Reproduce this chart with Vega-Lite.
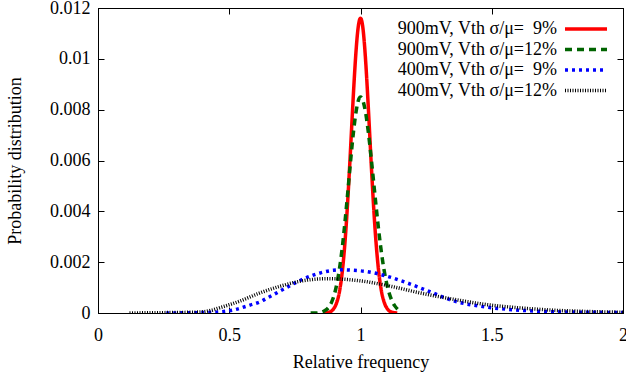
{
  "$schema": "https://vega.github.io/schema/vega-lite/v6.json",
  "autosize": "none",
  "width": 525,
  "height": 305,
  "padding": {"left": 98, "top": 8, "right": 3, "bottom": 68},
  "background": "white",
  "config": {
    "view": {"stroke": "black", "strokeWidth": 1},
    "font": "Liberation Serif",
    "axis": {
      "domainColor": "black",
      "tickColor": "black",
      "labelColor": "black",
      "titleColor": "black",
      "labelFont": "Liberation Serif",
      "titleFont": "Liberation Serif",
      "labelFontSize": 18,
      "titleFontSize": 18,
      "titleFontWeight": "normal",
      "grid": false,
      "tickSize": -6
    },
    "legend": {
      "labelFont": "Liberation Serif",
      "labelFontSize": 18,
      "labelColor": "black"
    }
  },
  "data": {
    "values": [
      {"series": "900mV, Vth σ/μ=\u20079%", "x": 0.86, "y": 0},
      {"series": "900mV, Vth σ/μ=\u20079%", "x": 0.87, "y": 0.00001},
      {"series": "900mV, Vth σ/μ=\u20079%", "x": 0.88, "y": 0.00003},
      {"series": "900mV, Vth σ/μ=\u20079%", "x": 0.89, "y": 0.00008},
      {"series": "900mV, Vth σ/μ=\u20079%", "x": 0.90, "y": 0.0002},
      {"series": "900mV, Vth σ/μ=\u20079%", "x": 0.91, "y": 0.00043},
      {"series": "900mV, Vth σ/μ=\u20079%", "x": 0.92, "y": 0.00085},
      {"series": "900mV, Vth σ/μ=\u20079%", "x": 0.93, "y": 0.00157},
      {"series": "900mV, Vth σ/μ=\u20079%", "x": 0.935, "y": 0.00207},
      {"series": "900mV, Vth σ/μ=\u20079%", "x": 0.94, "y": 0.00267},
      {"series": "900mV, Vth σ/μ=\u20079%", "x": 0.945, "y": 0.00337},
      {"series": "900mV, Vth σ/μ=\u20079%", "x": 0.95, "y": 0.00418},
      {"series": "900mV, Vth σ/μ=\u20079%", "x": 0.955, "y": 0.00508},
      {"series": "900mV, Vth σ/μ=\u20079%", "x": 0.96, "y": 0.00603},
      {"series": "900mV, Vth σ/μ=\u20079%", "x": 0.965, "y": 0.00704},
      {"series": "900mV, Vth σ/μ=\u20079%", "x": 0.97, "y": 0.00804},
      {"series": "900mV, Vth σ/μ=\u20079%", "x": 0.975, "y": 0.00899},
      {"series": "900mV, Vth σ/μ=\u20079%", "x": 0.98, "y": 0.00985},
      {"series": "900mV, Vth σ/μ=\u20079%", "x": 0.985, "y": 0.01058},
      {"series": "900mV, Vth σ/μ=\u20079%", "x": 0.99, "y": 0.01114},
      {"series": "900mV, Vth σ/μ=\u20079%", "x": 0.995, "y": 0.01148},
      {"series": "900mV, Vth σ/μ=\u20079%", "x": 1.0, "y": 0.0116},
      {"series": "900mV, Vth σ/μ=\u20079%", "x": 1.005, "y": 0.01148},
      {"series": "900mV, Vth σ/μ=\u20079%", "x": 1.01, "y": 0.01114},
      {"series": "900mV, Vth σ/μ=\u20079%", "x": 1.015, "y": 0.01058},
      {"series": "900mV, Vth σ/μ=\u20079%", "x": 1.02, "y": 0.00985},
      {"series": "900mV, Vth σ/μ=\u20079%", "x": 1.025, "y": 0.00899},
      {"series": "900mV, Vth σ/μ=\u20079%", "x": 1.03, "y": 0.00804},
      {"series": "900mV, Vth σ/μ=\u20079%", "x": 1.035, "y": 0.00704},
      {"series": "900mV, Vth σ/μ=\u20079%", "x": 1.04, "y": 0.00603},
      {"series": "900mV, Vth σ/μ=\u20079%", "x": 1.045, "y": 0.00508},
      {"series": "900mV, Vth σ/μ=\u20079%", "x": 1.05, "y": 0.00418},
      {"series": "900mV, Vth σ/μ=\u20079%", "x": 1.055, "y": 0.00337},
      {"series": "900mV, Vth σ/μ=\u20079%", "x": 1.06, "y": 0.00267},
      {"series": "900mV, Vth σ/μ=\u20079%", "x": 1.065, "y": 0.00207},
      {"series": "900mV, Vth σ/μ=\u20079%", "x": 1.07, "y": 0.00157},
      {"series": "900mV, Vth σ/μ=\u20079%", "x": 1.08, "y": 0.00085},
      {"series": "900mV, Vth σ/μ=\u20079%", "x": 1.09, "y": 0.00043},
      {"series": "900mV, Vth σ/μ=\u20079%", "x": 1.10, "y": 0.0002},
      {"series": "900mV, Vth σ/μ=\u20079%", "x": 1.11, "y": 0.00008},
      {"series": "900mV, Vth σ/μ=\u20079%", "x": 1.12, "y": 0.00003},
      {"series": "900mV, Vth σ/μ=\u20079%", "x": 1.13, "y": 0.00001},
      {"series": "900mV, Vth σ/μ=\u20079%", "x": 1.14, "y": 0},

      {"series": "900mV, Vth σ/μ=12%", "x": 0.81, "y": 0},
      {"series": "900mV, Vth σ/μ=12%", "x": 0.83, "y": 0},
      {"series": "900mV, Vth σ/μ=12%", "x": 0.84, "y": 0.00001},
      {"series": "900mV, Vth σ/μ=12%", "x": 0.85, "y": 0.00003},
      {"series": "900mV, Vth σ/μ=12%", "x": 0.86, "y": 0.00007},
      {"series": "900mV, Vth σ/μ=12%", "x": 0.87, "y": 0.00013},
      {"series": "900mV, Vth σ/μ=12%", "x": 0.88, "y": 0.00024},
      {"series": "900mV, Vth σ/μ=12%", "x": 0.89, "y": 0.00043},
      {"series": "900mV, Vth σ/μ=12%", "x": 0.90, "y": 0.00072},
      {"series": "900mV, Vth σ/μ=12%", "x": 0.91, "y": 0.00115},
      {"series": "900mV, Vth σ/μ=12%", "x": 0.92, "y": 0.00175},
      {"series": "900mV, Vth σ/μ=12%", "x": 0.93, "y": 0.00253},
      {"series": "900mV, Vth σ/μ=12%", "x": 0.94, "y": 0.00349},
      {"series": "900mV, Vth σ/μ=12%", "x": 0.95, "y": 0.00458},
      {"series": "900mV, Vth σ/μ=12%", "x": 0.96, "y": 0.00573},
      {"series": "900mV, Vth σ/μ=12%", "x": 0.97, "y": 0.00681},
      {"series": "900mV, Vth σ/μ=12%", "x": 0.98, "y": 0.0077},
      {"series": "900mV, Vth σ/μ=12%", "x": 0.99, "y": 0.00829},
      {"series": "900mV, Vth σ/μ=12%", "x": 0.995, "y": 0.00845},
      {"series": "900mV, Vth σ/μ=12%", "x": 1.0, "y": 0.0085},
      {"series": "900mV, Vth σ/μ=12%", "x": 1.005, "y": 0.00846},
      {"series": "900mV, Vth σ/μ=12%", "x": 1.01, "y": 0.00833},
      {"series": "900mV, Vth σ/μ=12%", "x": 1.02, "y": 0.00785},
      {"series": "900mV, Vth σ/μ=12%", "x": 1.03, "y": 0.0071},
      {"series": "900mV, Vth σ/μ=12%", "x": 1.04, "y": 0.00617},
      {"series": "900mV, Vth σ/μ=12%", "x": 1.05, "y": 0.00516},
      {"series": "900mV, Vth σ/μ=12%", "x": 1.06, "y": 0.00414},
      {"series": "900mV, Vth σ/μ=12%", "x": 1.07, "y": 0.00319},
      {"series": "900mV, Vth σ/μ=12%", "x": 1.08, "y": 0.00236},
      {"series": "900mV, Vth σ/μ=12%", "x": 1.09, "y": 0.00168},
      {"series": "900mV, Vth σ/μ=12%", "x": 1.10, "y": 0.00115},
      {"series": "900mV, Vth σ/μ=12%", "x": 1.11, "y": 0.00076},
      {"series": "900mV, Vth σ/μ=12%", "x": 1.12, "y": 0.00048},
      {"series": "900mV, Vth σ/μ=12%", "x": 1.13, "y": 0.00029},
      {"series": "900mV, Vth σ/μ=12%", "x": 1.14, "y": 0.00016},
      {"series": "900mV, Vth σ/μ=12%", "x": 1.15, "y": 0.00006},

      {"series": "400mV, Vth σ/μ=\u20079%", "x": 0.26, "y": 0},
      {"series": "400mV, Vth σ/μ=\u20079%", "x": 0.35, "y": 0.00001},
      {"series": "400mV, Vth σ/μ=\u20079%", "x": 0.44, "y": 0.00003},
      {"series": "400mV, Vth σ/μ=\u20079%", "x": 0.516, "y": 0.00012},
      {"series": "400mV, Vth σ/μ=\u20079%", "x": 0.579, "y": 0.00031},
      {"series": "400mV, Vth σ/μ=\u20079%", "x": 0.617, "y": 0.00044},
      {"series": "400mV, Vth σ/μ=\u20079%", "x": 0.643, "y": 0.00058},
      {"series": "400mV, Vth σ/μ=\u20079%", "x": 0.693, "y": 0.00086},
      {"series": "400mV, Vth σ/μ=\u20079%", "x": 0.77, "y": 0.00128},
      {"series": "400mV, Vth σ/μ=\u20079%", "x": 0.82, "y": 0.00149},
      {"series": "400mV, Vth σ/μ=\u20079%", "x": 0.897, "y": 0.00168},
      {"series": "400mV, Vth σ/μ=\u20079%", "x": 0.935, "y": 0.0017},
      {"series": "400mV, Vth σ/μ=\u20079%", "x": 0.973, "y": 0.00168},
      {"series": "400mV, Vth σ/μ=\u20079%", "x": 1.024, "y": 0.00163},
      {"series": "400mV, Vth σ/μ=\u20079%", "x": 1.10, "y": 0.00145},
      {"series": "400mV, Vth σ/μ=\u20079%", "x": 1.176, "y": 0.00119},
      {"series": "400mV, Vth σ/μ=\u20079%", "x": 1.252, "y": 0.00089},
      {"series": "400mV, Vth σ/μ=\u20079%", "x": 1.354, "y": 0.00048},
      {"series": "400mV, Vth σ/μ=\u20079%", "x": 1.481, "y": 0.00023},
      {"series": "400mV, Vth σ/μ=\u20079%", "x": 1.608, "y": 0.00011},
      {"series": "400mV, Vth σ/μ=\u20079%", "x": 1.735, "y": 0.00005},
      {"series": "400mV, Vth σ/μ=\u20079%", "x": 1.862, "y": 0.00003},
      {"series": "400mV, Vth σ/μ=\u20079%", "x": 2.0, "y": 0.00002},

      {"series": "400mV, Vth σ/μ=12%", "x": 0.12, "y": 0},
      {"series": "400mV, Vth σ/μ=12%", "x": 0.2, "y": 0.00001},
      {"series": "400mV, Vth σ/μ=12%", "x": 0.3, "y": 0.00002},
      {"series": "400mV, Vth σ/μ=12%", "x": 0.389, "y": 0.00004},
      {"series": "400mV, Vth σ/μ=12%", "x": 0.43, "y": 0.0001},
      {"series": "400mV, Vth σ/μ=12%", "x": 0.465, "y": 0.00021},
      {"series": "400mV, Vth σ/μ=12%", "x": 0.541, "y": 0.00047},
      {"series": "400mV, Vth σ/μ=12%", "x": 0.617, "y": 0.00079},
      {"series": "400mV, Vth σ/μ=12%", "x": 0.693, "y": 0.00105},
      {"series": "400mV, Vth σ/μ=12%", "x": 0.77, "y": 0.00125},
      {"series": "400mV, Vth σ/μ=12%", "x": 0.871, "y": 0.00135},
      {"series": "400mV, Vth σ/μ=12%", "x": 0.947, "y": 0.00132},
      {"series": "400mV, Vth σ/μ=12%", "x": 1.024, "y": 0.00123},
      {"series": "400mV, Vth σ/μ=12%", "x": 1.125, "y": 0.00103},
      {"series": "400mV, Vth σ/μ=12%", "x": 1.227, "y": 0.00079},
      {"series": "400mV, Vth σ/μ=12%", "x": 1.354, "y": 0.00054},
      {"series": "400mV, Vth σ/μ=12%", "x": 1.481, "y": 0.00033},
      {"series": "400mV, Vth σ/μ=12%", "x": 1.608, "y": 0.0002},
      {"series": "400mV, Vth σ/μ=12%", "x": 1.735, "y": 0.00011},
      {"series": "400mV, Vth σ/μ=12%", "x": 1.862, "y": 0.00006},
      {"series": "400mV, Vth σ/μ=12%", "x": 2.0, "y": 0.00003}
    ]
  },
  "layer": [
    {
      "mark": {"type": "line", "interpolate": "monotone", "clip": true},
      "encoding": {
        "x": {
          "field": "x", "type": "quantitative",
          "scale": {"domain": [0, 2], "nice": false, "zero": false},
          "axis": {"orient": "bottom", "values": [0, 0.5, 1, 1.5, 2], "format": "~g", "title": "Relative frequency", "labelPadding": 19, "titlePadding": 9, "labelFlush": false}
        },
        "y": {
          "field": "y", "type": "quantitative",
          "scale": {"domain": [0, 0.012], "nice": false},
          "axis": {"orient": "left", "values": [0, 0.002, 0.004, 0.006, 0.008, 0.01, 0.012], "format": "~g", "title": "Probability distribution", "labelPadding": 14, "titlePadding": 25, "labelFlush": false}
        },
        "color": {
          "field": "series", "type": "nominal",
          "scale": {
            "domain": ["900mV, Vth σ/μ=\u20079%", "900mV, Vth σ/μ=12%", "400mV, Vth σ/μ=\u20079%", "400mV, Vth σ/μ=12%"],
            "range": ["#ff0000", "#006400", "#0000ff", "#000000"]
          },
          "legend": {
            "title": null,
            "orient": "none",
            "legendX": 479,
            "legendY": 12,
            "symbolType": "M-4.2,0H4.2",
            "symbolSize": 100,
            "labelAlign": "right",
            "labelOffset": -38,
            "rowPadding": 2.5
          }
        },
        "strokeDash": {
          "field": "series", "type": "nominal",
          "scale": {
            "domain": ["900mV, Vth σ/μ=\u20079%", "900mV, Vth σ/μ=12%", "400mV, Vth σ/μ=\u20079%", "400mV, Vth σ/μ=12%"],
            "range": [[1, 0], [7, 5], [3, 4], [1, 1.5]]
          },
          "legend": null
        },
        "strokeWidth": {
          "field": "series", "type": "nominal",
          "scale": {
            "domain": ["900mV, Vth σ/μ=\u20079%", "900mV, Vth σ/μ=12%", "400mV, Vth σ/μ=\u20079%", "400mV, Vth σ/μ=12%"],
            "range": [3.5, 3.5, 3.5, 3]
          },
          "legend": null
        }
      }
    },
    {
      "mark": {"type": "line", "opacity": 0},
      "encoding": {
        "x": {"field": "x", "type": "quantitative", "axis": {"orient": "top", "values": [0, 0.5, 1, 1.5, 2], "labels": false, "title": null}},
        "y": {"field": "y", "type": "quantitative", "axis": {"orient": "right", "values": [0, 0.002, 0.004, 0.006, 0.008, 0.01, 0.012], "labels": false, "title": null}}
      }
    }
  ],
  "resolve": {"axis": {"x": "independent", "y": "independent"}}
}
